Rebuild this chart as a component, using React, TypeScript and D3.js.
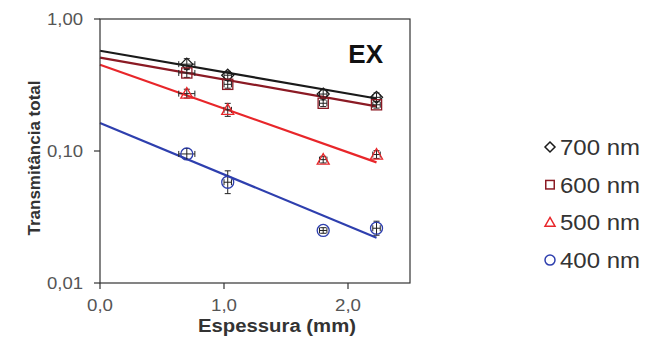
import React from "react";
import * as d3 from "d3";

const thickness = [0.7, 1.03, 1.8, 2.23];
const series = [
  { label: "700 nm", color: "#1a1a1a", shape: "diamond", values: [0.455, 0.375, 0.27, 0.255], fit: [0.575, 0.25], yErr: [0.1, 0.07, 0.08, 0.08] },
  { label: "600 nm", color: "#8b1a24", shape: "square", values: [0.39, 0.32, 0.23, 0.224], fit: [0.51, 0.218], yErr: [0.08, 0.07, 0.06, 0.06] },
  { label: "500 nm", color: "#e8262a", shape: "triangle", values: [0.272, 0.205, 0.086, 0.094], fit: [0.45, 0.082], yErr: [0.08, 0.12, 0.06, 0.07] },
  { label: "400 nm", color: "#2e3fae", shape: "circle", values: [0.095, 0.058, 0.025, 0.026], fit: [0.163, 0.022], yErr: [0.1, 0.22, 0.05, 0.13] },
];
const xErr = [0.065, 0.03, 0.03, 0.03];
const yTicks = [0.01, 0.1, 1];
const yTickLabels = ["0,01", "0,10", "1,00"];
const xTicks = [0, 1, 2];
const xTickLabels = ["0,0", "1,0", "2,0"];

const W = 650, H = 342;
const x = d3.scaleLinear().domain([0, 2.5]).range([100, 410]);
const y = d3.scaleLog().domain([0.01, 1]).range([283, 19]);
const font = "'Liberation Sans', Arial, sans-serif";

function Marker({ shape, cx, cy, r, color, sw = 1.3 }: any) {
  if (shape === "diamond") {
    return <path d={`M${cx},${cy - r} L${cx + r},${cy} L${cx},${cy + r} L${cx - r},${cy} Z`} fill="none" stroke={color} strokeWidth={sw} />;
  }
  if (shape === "square") {
    return <rect x={cx - r * 0.85} y={cy - r * 0.85} width={r * 1.7} height={r * 1.7} fill="none" stroke={color} strokeWidth={sw} />;
  }
  if (shape === "triangle") {
    return <path d={`M${cx},${cy - r} L${cx + r},${cy + r * 0.75} L${cx - r},${cy + r * 0.75} Z`} fill="none" stroke={color} strokeWidth={sw} />;
  }
  return <circle cx={cx} cy={cy} r={r} fill="none" stroke={color} strokeWidth={sw} />;
}

export default function App() {
  const line = d3.line<[number, number]>().x((d) => x(d[0])).y((d) => y(d[1]));
  return (
    <svg width={W} height={H} style={{ position: "absolute", left: 0, top: 0, background: "#fff" }}>
      {series.map((s) => (
        <path key={"l" + s.label} d={line([[0, s.fit[0]], [2.23, s.fit[1]]]) || ""} stroke={s.color} strokeWidth={2.2} fill="none" />
      ))}
      {series.map((s) =>
        s.values.map((v, i) => {
          const cx = x(thickness[i]);
          const cy = y(v);
          const x0 = x(thickness[i] - xErr[i]);
          const x1 = x(thickness[i] + xErr[i]);
          const y0 = y(v * (1 + s.yErr[i]));
          const y1 = y(v / (1 + s.yErr[i]));
          return (
            <g key={s.label + i}>
              <line x1={x0} x2={x1} y1={cy} y2={cy} stroke="#222" strokeWidth={1} />
              <line x1={x0} x2={x0} y1={cy - 3} y2={cy + 3} stroke="#222" strokeWidth={1} />
              <line x1={x1} x2={x1} y1={cy - 3} y2={cy + 3} stroke="#222" strokeWidth={1} />
              <line x1={cx} x2={cx} y1={y0} y2={y1} stroke="#222" strokeWidth={1} />
              <line x1={cx - 3} x2={cx + 3} y1={y0} y2={y0} stroke="#222" strokeWidth={1} />
              <line x1={cx - 3} x2={cx + 3} y1={y1} y2={y1} stroke="#222" strokeWidth={1} />
              <Marker shape={s.shape} cx={cx} cy={cy} r={6} color={s.color} />
            </g>
          );
        })
      )}
      <rect x={100} y={19} width={310} height={264} fill="none" stroke="#333" strokeWidth={1.2} />
      {yTicks.map((t, i) => (
        <g key={"yt" + t}>
          <line x1={94} x2={100} y1={y(t)} y2={y(t)} stroke="#333" strokeWidth={1.2} />
          <text x={83} y={y(t)} dy="0.36em" textAnchor="end" fontFamily={font} fontSize={17} fill="#555" textLength={36} lengthAdjust="spacingAndGlyphs">{yTickLabels[i]}</text>
        </g>
      ))}
      {xTicks.map((t, i) => (
        <g key={"xt" + t}>
          <line x1={x(t)} x2={x(t)} y1={283} y2={289} stroke="#333" strokeWidth={1.2} />
          <text x={x(t)} y={311} textAnchor="middle" fontFamily={font} fontSize={17} fill="#555" textLength={26} lengthAdjust="spacingAndGlyphs">{xTickLabels[i]}</text>
        </g>
      ))}
      <text x={277} y={332} textAnchor="middle" fontFamily={font} fontSize={18} fontWeight="bold" fill="#333" textLength={158} lengthAdjust="spacingAndGlyphs">Espessura (mm)</text>
      <text transform={`translate(40,158) rotate(-90)`} textAnchor="middle" fontFamily={font} fontSize={17} fontWeight="bold" fill="#333" textLength={155} lengthAdjust="spacingAndGlyphs">Transmitância total</text>
      <text x={383} y={63} textAnchor="end" fontFamily={font} fontSize={26} fontWeight="bold" fill="#111">EX</text>
      {series.map((s, i) => {
        const ly = 147 + i * 37.7;
        return (
          <g key={"lg" + s.label}>
            <Marker shape={s.shape} cx={550} cy={ly} r={5} color={s.color} sw={1.5} />
            <text x={560} y={ly} dy="0.36em" fontFamily={font} fontSize={22} fill="#333" textLength={80} lengthAdjust="spacingAndGlyphs">{s.label}</text>
          </g>
        );
      })}
    </svg>
  );
}
